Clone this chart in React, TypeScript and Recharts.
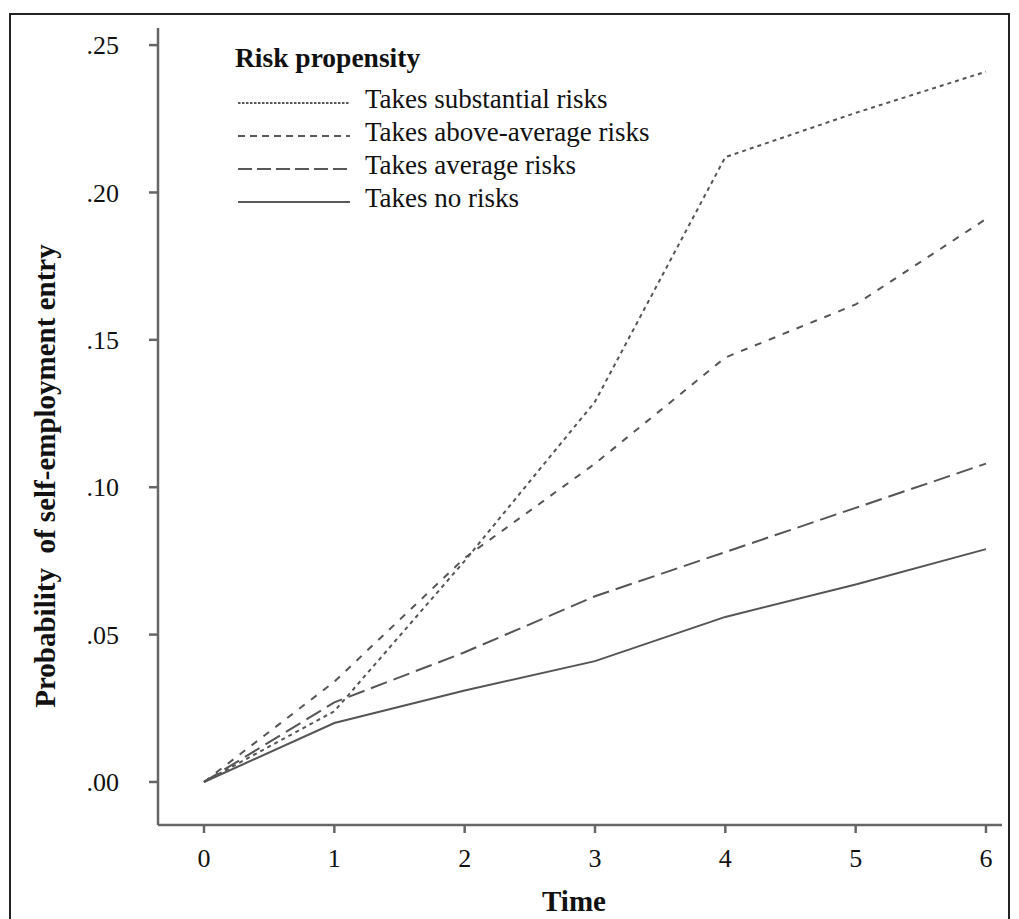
import React from 'react';
import { LineChart, Line, XAxis, YAxis, Label } from 'recharts';

const TIMES = [0, 1, 2, 3, 4, 5, 6];
const SUBSTANTIAL = [0, 0.024, 0.075, 0.129, 0.212, 0.227, 0.241];
const ABOVE_AVERAGE = [0, 0.034, 0.076, 0.108, 0.144, 0.162, 0.191];
const AVERAGE = [0, 0.027, 0.044, 0.063, 0.078, 0.093, 0.108];
const NO_RISKS = [0, 0.02, 0.031, 0.041, 0.056, 0.067, 0.079];

const Y_TICKS = [0, 0.05, 0.1, 0.15, 0.2, 0.25];

const SERIES = [
  { key: 'substantial', name: 'Takes substantial risks', values: SUBSTANTIAL, dash: '4 4', legendDash: '2.5 1.5' },
  { key: 'aboveAverage', name: 'Takes above-average risks', values: ABOVE_AVERAGE, dash: '7 8', legendDash: '7 5' },
  { key: 'average', name: 'Takes average risks', values: AVERAGE, dash: '17 7', legendDash: '14 5' },
  { key: 'noRisks', name: 'Takes no risks', values: NO_RISKS, dash: undefined, legendDash: undefined },
];

const data = TIMES.map((t, i) => {
  const row: { [k: string]: number } = { time: t };
  SERIES.forEach((s) => {
    row[s.key] = s.values[i];
  });
  return row;
});

const FONT = "'Liberation Serif', 'Times New Roman', serif";
const LINE_COLOR = '#555';
const AXIS_COLOR = '#666';

const fmtY = (v: number) => v.toFixed(2).replace(/^0/, '');

// legend drawn as an overlay so it doesn't eat into the plot area
const RiskLegend = () => (
  <svg width={480} height={180} style={{ position: 'absolute', left: 220, top: 40, fontFamily: FONT }}>
    <text x={15} y={27} fontSize={27.5} fontWeight="bold" fill="#111">
      Risk propensity
    </text>
    {SERIES.map((s, i) => (
      <g key={s.key}>
        <line x1={18} x2={130} y1={63 + i * 33} y2={63 + i * 33} stroke="#222" strokeWidth={1.5}
              strokeDasharray={s.legendDash} />
        <text x={145} y={68 + i * 33} fontSize={27} fill="#111">{s.name}</text>
      </g>
    ))}
  </svg>
);

export default function App() {
  return (
    <div style={{ position: 'absolute', left: 0, top: 0, width: 1019, height: 919, overflow: 'hidden', background: '#fff', fontFamily: FONT }}>
      <div style={{ position: 'absolute', left: 9, top: 13, width: 1001, height: 1000, border: '2px solid #222', boxSizing: 'border-box' }} />
      <div style={{ position: 'absolute', left: 0, top: 0 }}>
        <LineChart width={1019} height={919} data={data}
                   margin={{ top: 28, right: 17, left: 98, bottom: 0 }}>
          <XAxis dataKey="time" type="number" domain={[-0.353, 6.123]} ticks={TIMES}
                 height={94} tickSize={8} tickMargin={16} allowDataOverflow
                 stroke={AXIS_COLOR} strokeWidth={2.5}
                 tick={{ fontSize: 26, fill: '#111', fontFamily: FONT }}
                 tickLine={{ stroke: AXIS_COLOR, strokeWidth: 2.5 }}>
            <Label value="Time" position="insideBottom" offset={8} dx={-6}
                   style={{ fontSize: 29, fontWeight: 'bold', fill: '#111', fontFamily: FONT }} />
          </XAxis>
          <YAxis type="number" domain={[-0.0146, 0.2558]} ticks={Y_TICKS} allowDataOverflow
                 width={60} tickSize={9} tickMargin={30} tickFormatter={fmtY}
                 stroke={AXIS_COLOR} strokeWidth={2.5}
                 tick={{ fontSize: 26, fill: '#111', fontFamily: FONT }}
                 tickLine={{ stroke: AXIS_COLOR, strokeWidth: 2.5 }}>
            <Label
              content={(props: any) => {
                const vb = props.viewBox || { x: 98, y: 28, width: 60, height: 797 };
                const cx = vb.x - 53;
                const cy = 476;
                return (
                  <text x={cx} y={cy} transform={`rotate(-90, ${cx}, ${cy})`} textAnchor="middle"
                        dominantBaseline="central" fontSize={29} fontWeight="bold" fill="#111"
                        fontFamily={FONT} style={{ whiteSpace: 'pre' }}>
                    {'Probability  of self-employment entry'}
                  </text>
                );
              }}
            />
          </YAxis>
          {SERIES.map((s) => (
            <Line key={s.key} type="linear" dataKey={s.key} name={s.name} stroke={LINE_COLOR}
                  strokeWidth={2} strokeDasharray={s.dash} dot={false} activeDot={false}
                  isAnimationActive={false} />
          ))}
        </LineChart>
      </div>
      <RiskLegend />
    </div>
  );
}
